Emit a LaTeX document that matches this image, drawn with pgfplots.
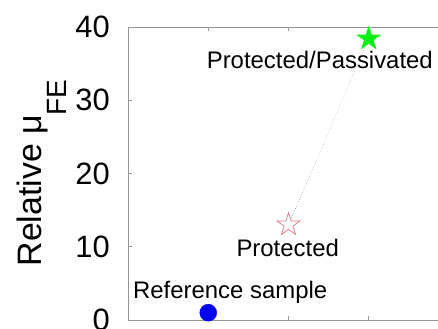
\documentclass[border=0pt]{standalone}
\usepackage{pgfplots}
\pgfplotsset{compat=1.18}
\usepackage{fontspec}
\setmainfont{Liberation Sans}
\definecolor{axgray}{RGB}{150,150,150}
\definecolor{starred}{RGB}{225,120,135}
\definecolor{stargreen}{RGB}{10,240,20}
\definecolor{dotblue}{RGB}{0,0,240}
\pgfdeclareplotmark{pstar}{%
  \pgfpathmoveto{\pgfpointpolar{90}{\pgfplotmarksize}}%
  \pgfpathlineto{\pgfpointpolar{126}{0.382*\pgfplotmarksize}}%
  \pgfpathlineto{\pgfpointpolar{162}{\pgfplotmarksize}}%
  \pgfpathlineto{\pgfpointpolar{198}{0.382*\pgfplotmarksize}}%
  \pgfpathlineto{\pgfpointpolar{234}{\pgfplotmarksize}}%
  \pgfpathlineto{\pgfpointpolar{270}{0.382*\pgfplotmarksize}}%
  \pgfpathlineto{\pgfpointpolar{306}{\pgfplotmarksize}}%
  \pgfpathlineto{\pgfpointpolar{342}{0.382*\pgfplotmarksize}}%
  \pgfpathlineto{\pgfpointpolar{18}{\pgfplotmarksize}}%
  \pgfpathlineto{\pgfpointpolar{54}{0.382*\pgfplotmarksize}}%
  \pgfpathclose
  \pgfusepathqfillstroke}
\begin{document}
\begin{tikzpicture}
\useasboundingbox (0,0) rectangle (438bp,329bp);
\clip (0,0) rectangle (438bp,329bp);
\begin{axis}[
  at={(128bp,9bp)}, anchor=south west,
  scale only axis, width=321bp, height=293bp,
  xmin=0, xmax=4, ymin=0, ymax=40,
  xtick={1,2,3}, xticklabels={},
  ytick={0,10,20,30,40},
  tick align=inside, major tick length=4bp,
  axis line style={axgray, line width=0.7bp},
  every tick/.style={axgray, line width=0.7bp},
  /pgf/number format/assume math mode=true,
  yticklabel style={font=\fontsize{31}{31}\selectfont, anchor=east, inner sep=0pt, xshift=-18bp},
  ylabel={Relative μ\raisebox{-25bp}{\fontsize{28}{28}\selectfont FE}},
  ylabel style={font=\fontsize{34}{34}\selectfont, at={(axis description cs:-0.268,0.502)}, anchor=base},
]
\addplot[gray, line width=0.5bp, dotted] coordinates {(2,13.0) (3,38.4)};
\addplot[only marks, mark=*, mark size=8.5bp, color=dotblue, fill=dotblue] coordinates {(1,1.0)};
\addplot[only marks, mark=pstar, mark size=12bp, draw=starred, fill=white, line width=0.7bp] coordinates {(2,13.0)};
\addplot[only marks, mark=pstar, mark size=12bp, draw=stargreen, fill=stargreen, line width=0.7bp] coordinates {(3,38.4)};
\node[font=\fontsize{24}{24}\selectfont, anchor=base west, inner sep=0pt] at (axis cs:0.062,3.0) {Reference sample};
\node[font=\fontsize{24}{24}\selectfont, anchor=base, inner sep=0pt] at (axis cs:1.99,8.73) {Protected};
\node[font=\fontsize{24}{24}\selectfont, anchor=base, inner sep=0pt] at (axis cs:2.39,34.38) {Protected/Passivated};
\end{axis}
\end{tikzpicture}
\end{document}
